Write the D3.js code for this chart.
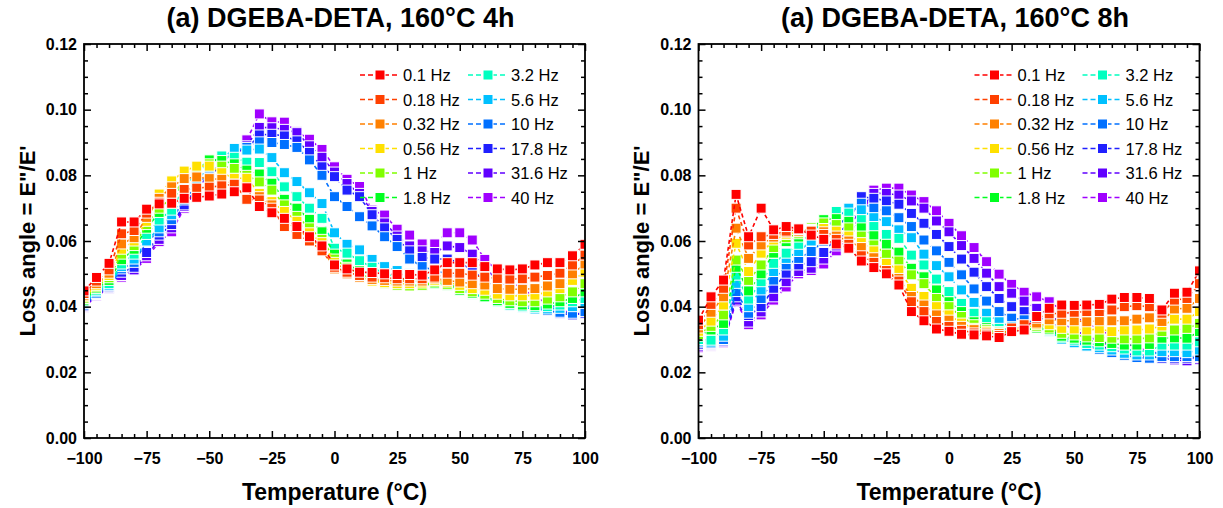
<!DOCTYPE html>
<html><head><meta charset="utf-8">
<script src="https://cdn.jsdelivr.net/npm/d3@7"></script>
<style>body{margin:0;background:#fff;} svg{display:block;font-family:"Liberation Sans",Arial,sans-serif;}</style>
</head><body>
<svg id="chart" width="1223" height="508"></svg>
<script>
// ---------- data ----------
const temps = [-100,-95,-90,-85,-80,-75,-70,-65,-60,-55,-50,-45,-40,-35,-30,-25,-20,-15,-10,-5,0,5,10,15,20,25,30,35,40,45,50,55,60,65,70,75,80,85,90,95,100];
const freqLabels = ["0.1 Hz","0.18 Hz","0.32 Hz","0.56 Hz","1 Hz","1.8 Hz","3.2 Hz","5.6 Hz","10 Hz","17.8 Hz","31.6 Hz","40 Hz"];
const freqColors = ["#FF0000","#FF4000","#FF8000","#FFE000","#80FF00","#00FF20","#00FFC0","#00C0FF","#0070FF","#2020FF","#6000FF","#A000FF"];
const xTickValues = [-100,-75,-50,-25,0,25,50,75,100];
const yTickValues = [0,0.02,0.04,0.06,0.08,0.10,0.12];
const titles = ["(a) DGEBA-DETA, 160°C 4h","(a) DGEBA-DETA, 160°C 8h"];

// 160°C 4h
const h4_f0_1  = [0.0448,0.0489,0.0532,0.0658,0.0658,0.0697,0.0713,0.0715,0.0730,0.0733,0.0737,0.0743,0.0750,0.0762,0.0705,0.0686,0.0669,0.0644,0.0613,0.0585,0.0527,0.0515,0.0505,0.0504,0.0500,0.0498,0.0498,0.0496,0.0512,0.0534,0.0534,0.0534,0.0522,0.0515,0.0512,0.0515,0.0527,0.0534,0.0534,0.0555,0.0590];
const h4_f0_18 = [0.0440,0.0478,0.0512,0.0622,0.0632,0.0685,0.0718,0.0745,0.0757,0.0761,0.0764,0.0768,0.0773,0.0727,0.0725,0.0700,0.0644,0.0620,0.0600,0.0570,0.0520,0.0505,0.0495,0.0490,0.0488,0.0485,0.0485,0.0485,0.0490,0.0502,0.0502,0.0496,0.0490,0.0486,0.0484,0.0485,0.0490,0.0495,0.0502,0.0527,0.0557];
const h4_f0_32 = [0.0435,0.0470,0.0502,0.0591,0.0610,0.0672,0.0730,0.0765,0.0790,0.0795,0.0790,0.0788,0.0773,0.0760,0.0735,0.0710,0.0665,0.0635,0.0610,0.0580,0.0515,0.0500,0.0490,0.0483,0.0480,0.0478,0.0478,0.0478,0.0485,0.0480,0.0475,0.0470,0.0466,0.0455,0.0453,0.0453,0.0455,0.0463,0.0470,0.0500,0.0530];
const h4_f0_56 = [0.0430,0.0465,0.0495,0.0575,0.0600,0.0660,0.0743,0.0783,0.0813,0.0828,0.0828,0.0808,0.0791,0.0791,0.0745,0.0720,0.0690,0.0660,0.0625,0.0595,0.0535,0.0510,0.0490,0.0478,0.0473,0.0470,0.0470,0.0472,0.0480,0.0475,0.0465,0.0455,0.0450,0.0438,0.0433,0.0433,0.0435,0.0445,0.0455,0.0480,0.0505];
const h4_f1    = [0.0425,0.0460,0.0488,0.0560,0.0586,0.0650,0.0700,0.0730,0.0790,0.0815,0.0835,0.0828,0.0821,0.0800,0.0780,0.0755,0.0710,0.0675,0.0640,0.0605,0.0545,0.0520,0.0500,0.0485,0.0470,0.0465,0.0463,0.0465,0.0475,0.0468,0.0455,0.0445,0.0438,0.0425,0.0418,0.0415,0.0415,0.0423,0.0430,0.0445,0.0470];
const h4_f1_8  = [0.0420,0.0455,0.0480,0.0543,0.0575,0.0639,0.0687,0.0715,0.0786,0.0815,0.0847,0.0845,0.0835,0.0816,0.0804,0.0776,0.0727,0.0700,0.0666,0.0628,0.0560,0.0530,0.0510,0.0495,0.0480,0.0470,0.0465,0.0465,0.0470,0.0465,0.0450,0.0440,0.0430,0.0418,0.0410,0.0405,0.0403,0.0408,0.0415,0.0425,0.0445];
const h4_f3_2  = [0.0415,0.0450,0.0470,0.0530,0.0560,0.0620,0.0664,0.0694,0.0765,0.0811,0.0835,0.0859,0.0855,0.0840,0.0839,0.0811,0.0765,0.0735,0.0700,0.0669,0.0578,0.0563,0.0540,0.0520,0.0500,0.0490,0.0480,0.0475,0.0475,0.0465,0.0450,0.0438,0.0428,0.0415,0.0405,0.0400,0.0398,0.0400,0.0405,0.0415,0.0425];
const h4_f5_6  = [0.0410,0.0445,0.0465,0.0522,0.0545,0.0600,0.0640,0.0680,0.0740,0.0785,0.0825,0.0850,0.0882,0.0877,0.0880,0.0854,0.0808,0.0781,0.0747,0.0714,0.0625,0.0590,0.0573,0.0544,0.0522,0.0510,0.0500,0.0490,0.0485,0.0470,0.0455,0.0440,0.0428,0.0415,0.0403,0.0398,0.0393,0.0393,0.0395,0.0400,0.0410];
const h4_f10   = [0.0405,0.0440,0.0462,0.0515,0.0535,0.0598,0.0628,0.0665,0.0725,0.0770,0.0810,0.0840,0.0865,0.0885,0.0902,0.0900,0.0894,0.0885,0.0847,0.0800,0.0735,0.0705,0.0674,0.0646,0.0613,0.0583,0.0545,0.0522,0.0510,0.0500,0.0490,0.0475,0.0455,0.0440,0.0420,0.0405,0.0395,0.0388,0.0383,0.0380,0.0385];
const h4_f17_8 = [0.0402,0.0437,0.0458,0.0505,0.0520,0.0565,0.0618,0.0650,0.0710,0.0760,0.0800,0.0830,0.0860,0.0880,0.0923,0.0925,0.0920,0.0905,0.0870,0.0826,0.0796,0.0755,0.0735,0.0680,0.0640,0.0605,0.0570,0.0550,0.0545,0.0545,0.0535,0.0510,0.0480,0.0455,0.0430,0.0410,0.0395,0.0388,0.0380,0.0375,0.0380];
const h4_f31_6 = [0.0400,0.0435,0.0456,0.0495,0.0512,0.0555,0.0605,0.0640,0.0705,0.0755,0.0806,0.0825,0.0860,0.0890,0.0946,0.0945,0.0940,0.0930,0.0890,0.0855,0.0810,0.0775,0.0745,0.0690,0.0655,0.0615,0.0585,0.0570,0.0565,0.0585,0.0580,0.0560,0.0520,0.0480,0.0450,0.0425,0.0405,0.0390,0.0383,0.0378,0.0380];
const h4_f40   = [0.0398,0.0433,0.0455,0.0490,0.0510,0.0547,0.0598,0.0628,0.0700,0.0755,0.0806,0.0830,0.0880,0.0908,0.0987,0.0963,0.0962,0.0933,0.0910,0.0879,0.0826,0.0788,0.0766,0.0694,0.0679,0.0636,0.0618,0.0591,0.0591,0.0625,0.0625,0.0603,0.0544,0.0510,0.0480,0.0455,0.0430,0.0410,0.0390,0.0380,0.0385];

// 160°C 8h
const h8_f0_1  = [0.0359,0.0430,0.0481,0.0742,0.0613,0.0700,0.0634,0.0644,0.0637,0.0618,0.0605,0.0591,0.0578,0.0539,0.0519,0.0500,0.0466,0.0385,0.0357,0.0332,0.0325,0.0316,0.0314,0.0311,0.0306,0.0324,0.0329,0.0370,0.0395,0.0405,0.0404,0.0405,0.0407,0.0423,0.0428,0.0428,0.0425,0.0390,0.0441,0.0444,0.0509];
const h8_f0_18 = [0.0345,0.0407,0.0456,0.0700,0.0588,0.0613,0.0620,0.0630,0.0635,0.0630,0.0620,0.0605,0.0590,0.0555,0.0535,0.0510,0.0478,0.0415,0.0385,0.0355,0.0340,0.0328,0.0320,0.0316,0.0312,0.0335,0.0345,0.0365,0.0378,0.0380,0.0383,0.0385,0.0385,0.0390,0.0400,0.0403,0.0400,0.0380,0.0420,0.0425,0.0470];
const h8_f0_32 = [0.0335,0.0383,0.0430,0.0639,0.0547,0.0588,0.0612,0.0625,0.0630,0.0632,0.0628,0.0615,0.0600,0.0580,0.0549,0.0507,0.0486,0.0431,0.0405,0.0375,0.0359,0.0340,0.0330,0.0320,0.0318,0.0330,0.0340,0.0350,0.0360,0.0357,0.0357,0.0354,0.0357,0.0357,0.0357,0.0362,0.0366,0.0355,0.0393,0.0395,0.0425];
const h8_f0_56 = [0.0325,0.0356,0.0405,0.0593,0.0507,0.0563,0.0603,0.0620,0.0628,0.0635,0.0638,0.0630,0.0615,0.0595,0.0570,0.0532,0.0512,0.0456,0.0431,0.0400,0.0375,0.0350,0.0334,0.0325,0.0320,0.0328,0.0335,0.0345,0.0345,0.0334,0.0332,0.0329,0.0332,0.0324,0.0329,0.0329,0.0332,0.0341,0.0362,0.0362,0.0385];
const h8_f1    = [0.0315,0.0340,0.0375,0.0542,0.0480,0.0527,0.0580,0.0610,0.0622,0.0640,0.0655,0.0650,0.0640,0.0615,0.0588,0.0560,0.0539,0.0497,0.0470,0.0425,0.0400,0.0370,0.0345,0.0330,0.0320,0.0325,0.0330,0.0340,0.0335,0.0319,0.0314,0.0308,0.0306,0.0304,0.0302,0.0302,0.0305,0.0324,0.0329,0.0334,0.0349];
const h8_f1_8  = [0.0310,0.0329,0.0349,0.0520,0.0448,0.0500,0.0563,0.0598,0.0612,0.0640,0.0665,0.0668,0.0660,0.0640,0.0616,0.0590,0.0566,0.0517,0.0491,0.0451,0.0415,0.0385,0.0354,0.0336,0.0324,0.0325,0.0328,0.0335,0.0330,0.0310,0.0304,0.0298,0.0293,0.0288,0.0283,0.0283,0.0285,0.0304,0.0305,0.0304,0.0324];
const h8_f3_2  = [0.0300,0.0298,0.0329,0.0496,0.0423,0.0476,0.0532,0.0563,0.0590,0.0625,0.0660,0.0690,0.0685,0.0665,0.0644,0.0620,0.0608,0.0557,0.0527,0.0484,0.0446,0.0410,0.0380,0.0354,0.0334,0.0330,0.0330,0.0335,0.0328,0.0305,0.0298,0.0288,0.0283,0.0278,0.0271,0.0265,0.0265,0.0283,0.0283,0.0283,0.0293];
const h8_f5_6  = [0.0295,0.0292,0.0310,0.0471,0.0400,0.0451,0.0507,0.0547,0.0568,0.0600,0.0635,0.0670,0.0700,0.0695,0.0671,0.0659,0.0634,0.0610,0.0560,0.0525,0.0491,0.0451,0.0413,0.0380,0.0354,0.0339,0.0334,0.0335,0.0325,0.0300,0.0290,0.0280,0.0275,0.0268,0.0258,0.0253,0.0253,0.0263,0.0263,0.0260,0.0268];
const h8_f10   = [0.0290,0.0288,0.0300,0.0446,0.0380,0.0425,0.0481,0.0527,0.0547,0.0568,0.0600,0.0640,0.0680,0.0715,0.0700,0.0692,0.0671,0.0644,0.0603,0.0570,0.0535,0.0497,0.0454,0.0417,0.0385,0.0365,0.0360,0.0350,0.0335,0.0310,0.0295,0.0280,0.0270,0.0260,0.0252,0.0245,0.0243,0.0248,0.0248,0.0248,0.0248];
const h8_f17_8 = [0.0285,0.0285,0.0296,0.0430,0.0373,0.0400,0.0456,0.0502,0.0527,0.0537,0.0565,0.0610,0.0660,0.0735,0.0730,0.0722,0.0712,0.0684,0.0654,0.0620,0.0583,0.0545,0.0505,0.0461,0.0425,0.0400,0.0385,0.0370,0.0355,0.0330,0.0310,0.0290,0.0280,0.0270,0.0260,0.0250,0.0245,0.0243,0.0243,0.0243,0.0245];
const h8_f31_6 = [0.0280,0.0282,0.0293,0.0420,0.0353,0.0384,0.0430,0.0476,0.0507,0.0517,0.0545,0.0585,0.0640,0.0700,0.0745,0.0745,0.0740,0.0722,0.0700,0.0661,0.0628,0.0586,0.0547,0.0502,0.0461,0.0441,0.0417,0.0395,0.0375,0.0350,0.0330,0.0310,0.0295,0.0280,0.0270,0.0260,0.0250,0.0243,0.0238,0.0235,0.0240];
const h8_f40   = [0.0275,0.0280,0.0290,0.0415,0.0345,0.0375,0.0420,0.0460,0.0500,0.0510,0.0530,0.0570,0.0620,0.0680,0.0755,0.0761,0.0761,0.0740,0.0720,0.0692,0.0654,0.0616,0.0580,0.0537,0.0499,0.0468,0.0444,0.0430,0.0415,0.0390,0.0370,0.0350,0.0330,0.0310,0.0290,0.0275,0.0265,0.0255,0.0245,0.0240,0.0238];

const series4h = [h4_f0_1,h4_f0_18,h4_f0_32,h4_f0_56,h4_f1,h4_f1_8,h4_f3_2,h4_f5_6,h4_f10,h4_f17_8,h4_f31_6,h4_f40];
const series8h = [h8_f0_1,h8_f0_18,h8_f0_32,h8_f0_56,h8_f1,h8_f1_8,h8_f3_2,h8_f5_6,h8_f10,h8_f17_8,h8_f31_6,h8_f40];

// ---------- layout ----------
const svg = d3.select("#chart");
const yTop = 44, yBot = 438;
const panels = [
  {title: titles[0], x0: 84, x1: 585, series: series4h, ylabX: 27},
  {title: titles[1], x0: 698.5, x1: 1199.5, series: series8h, ylabX: 641}
];
const minorX = d3.range(-100, 101, 5).filter(v => v % 25 !== 0);
const minorY = d3.range(0, 0.1201, 0.005).filter(v => Math.abs(Math.round(v/0.02)*0.02 - v) > 1e-6);

panels.forEach((p, pi) => {
  const x = d3.scaleLinear().domain([-100, 100]).range([p.x0, p.x1]);
  const y = d3.scaleLinear().domain([0, 0.12]).range([yBot, yTop]);
  const g = svg.append("g");
  const clipId = "clip" + pi;
  g.append("clipPath").attr("id", clipId).append("rect")
    .attr("x", p.x0).attr("y", yTop).attr("width", p.x1 - p.x0).attr("height", yBot - yTop);
  const plot = g.append("g").attr("clip-path", `url(#${clipId})`);

  // highest frequency drawn first, lowest frequency ends on top
  d3.range(p.series.length - 1, -1, -1).forEach(i => {
    const vals = p.series[i];
    const pts = temps.map((t, j) => [t, vals[j]]);
    plot.append("path")
      .attr("d", d3.line().x(d => x(d[0])).y(d => y(d[1]))(pts))
      .attr("fill", "none").attr("stroke", freqColors[i])
      .attr("stroke-width", 1.6).attr("stroke-dasharray", "4,3");
    plot.append("g").selectAll("rect").data(pts).join("rect")
      .attr("x", d => x(d[0]) - 5).attr("y", d => y(d[1]) - 5)
      .attr("width", 10).attr("height", 10)
      .attr("fill", freqColors[i]).attr("stroke", "#fff").attr("stroke-width", 1);
  });

  // axes (inward ticks)
  const styleAxis = sel => { sel.select(".domain").remove(); sel.selectAll("line").attr("stroke", "#000").attr("stroke-width", 1.5); };
  g.append("g").attr("transform", `translate(0,${yBot})`)
    .call(d3.axisBottom(x).tickValues(xTickValues).tickSize(-7).tickPadding(15).tickFormat(d3.format("d")))
    .call(styleAxis)
    .selectAll("text").attr("font-size", 16).attr("font-weight", "bold").attr("fill", "#000").attr("font-family", "Liberation Sans, Arial, sans-serif");
  g.append("g").attr("transform", `translate(0,${yBot})`)
    .call(d3.axisBottom(x).tickValues(minorX).tickSize(-4).tickFormat(""))
    .call(styleAxis);
  g.append("g").attr("transform", `translate(0,${yTop})`)
    .call(d3.axisTop(x).tickValues(xTickValues).tickSize(-7).tickFormat(""))
    .call(styleAxis);
  g.append("g").attr("transform", `translate(0,${yTop})`)
    .call(d3.axisTop(x).tickValues(minorX).tickSize(-4).tickFormat(""))
    .call(styleAxis);
  g.append("g").attr("transform", `translate(${p.x0},0)`)
    .call(d3.axisLeft(y).tickValues(yTickValues).tickSize(-7).tickPadding(7).tickFormat(d3.format(".2f")))
    .call(styleAxis)
    .selectAll("text").attr("font-size", 16).attr("font-weight", "bold").attr("fill", "#000").attr("font-family", "Liberation Sans, Arial, sans-serif");
  g.append("g").attr("transform", `translate(${p.x0},0)`)
    .call(d3.axisLeft(y).tickValues(minorY).tickSize(-4).tickFormat(""))
    .call(styleAxis);
  g.append("g").attr("transform", `translate(${p.x1},0)`)
    .call(d3.axisRight(y).tickValues(yTickValues).tickSize(-7).tickFormat(""))
    .call(styleAxis);
  g.append("g").attr("transform", `translate(${p.x1},0)`)
    .call(d3.axisRight(y).tickValues(minorY).tickSize(-4).tickFormat(""))
    .call(styleAxis);

  g.append("rect").attr("x", p.x0).attr("y", yTop).attr("width", p.x1 - p.x0).attr("height", yBot - yTop)
    .attr("fill", "none").attr("stroke", "#000").attr("stroke-width", 1.8);

  // titles
  const cx = (p.x0 + p.x1) / 2;
  g.append("text").attr("x", cx + 6).attr("y", 27).attr("text-anchor", "middle")
    .attr("font-size", 27).attr("font-weight", "bold").text(p.title);
  g.append("text").attr("x", cx).attr("y", 500).attr("text-anchor", "middle")
    .attr("font-size", 23).attr("font-weight", "bold").text("Temperature (°C)");
  g.append("text").attr("transform", `translate(${p.ylabX},${(yTop + yBot) / 2}) rotate(-90)`)
    .attr("text-anchor", "middle").attr("dominant-baseline", "central")
    .attr("font-size", 22).attr("font-weight", "bold").text("Loss angle = E\"/E'");

  // legend
  const lg = g.append("g");
  const colX = [p.x0 + 276, p.x0 + 384];
  freqLabels.forEach((lab, i) => {
    const c = Math.floor(i / 6), r = i % 6;
    const lx = colX[c], ly = 75 + r * 24.5;
    lg.append("line").attr("x1", lx).attr("x2", lx + 40).attr("y1", ly).attr("y2", ly)
      .attr("stroke", freqColors[i]).attr("stroke-width", 1.6).attr("stroke-dasharray", "5,3");
    lg.append("rect").attr("x", lx + 20 - 5).attr("y", ly - 5).attr("width", 10).attr("height", 10)
      .attr("fill", freqColors[i]).attr("stroke", "#fff").attr("stroke-width", 1);
    lg.append("text").attr("x", lx + 43).attr("y", ly).attr("dominant-baseline", "central")
      .attr("font-size", 16.5).text(lab);
  });
});
</script>
</body></html>
